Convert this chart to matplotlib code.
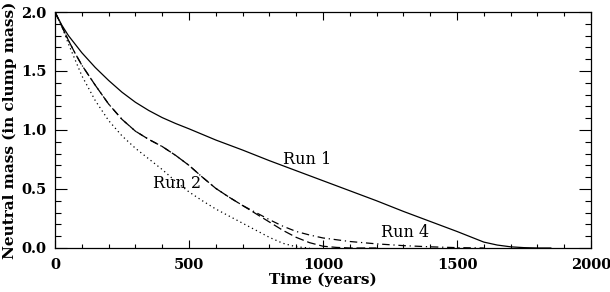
import matplotlib
matplotlib.use("Agg")
import matplotlib.pyplot as plt
from matplotlib.ticker import MultipleLocator, FormatStrFormatter

# Run 1 (solid)
t1 = [0, 25, 50, 100, 150, 200, 250, 300, 350, 400, 450, 500, 600, 700, 800, 900,
      1000, 1100, 1200, 1300, 1400, 1500, 1600, 1650, 1700, 1750, 1800, 1850]
m1 = [2.0, 1.89, 1.80, 1.655, 1.53, 1.42, 1.32, 1.235, 1.165, 1.105, 1.055, 1.01,
      0.915, 0.83, 0.74, 0.655, 0.57, 0.485, 0.40, 0.31, 0.225, 0.14, 0.05, 0.025,
      0.01, 0.003, 0.0, 0.0]

# Run 2 (dashed)
t2 = [0, 25, 50, 75, 100, 150, 200, 250, 300, 350, 400, 450, 500, 550, 600, 650,
      700, 750, 800, 850, 900, 950, 1000, 1050, 1100, 1200]
m2 = [2.0, 1.88, 1.76, 1.65, 1.55, 1.38, 1.22, 1.09, 0.99, 0.92, 0.86, 0.785, 0.70,
      0.60, 0.505, 0.43, 0.36, 0.29, 0.22, 0.15, 0.09, 0.045, 0.015, 0.005, 0.0, 0.0]

# dotted run
t3 = [0, 25, 50, 100, 150, 200, 250, 300, 350, 400, 450, 500, 550, 600, 650,
      700, 750, 800, 850, 900, 950]
m3 = [2.0, 1.88, 1.73, 1.46, 1.25, 1.08, 0.95, 0.845, 0.755, 0.665, 0.565, 0.475,
      0.40, 0.33, 0.27, 0.21, 0.15, 0.09, 0.04, 0.01, 0.0]

# Run 4 (dash-dot)
t4 = [0, 25, 50, 75, 100, 150, 200, 250, 300, 350, 400, 450, 500, 550, 600, 650,
      700, 750, 800, 850, 900, 950, 1000, 1100, 1200, 1300, 1400, 1500, 1600]
m4 = [2.0, 1.88, 1.76, 1.65, 1.55, 1.38, 1.22, 1.09, 0.99, 0.92, 0.86, 0.785, 0.70,
      0.60, 0.505, 0.43, 0.36, 0.30, 0.24, 0.185, 0.14, 0.11, 0.085, 0.055, 0.035,
      0.02, 0.01, 0.003, 0.0]

labels = ["Run 1", "Run 2", "Run 4"]
label_x = [940, 455, 1306]
label_y = [0.75, 0.55, 0.135]

plt.rcParams["font.family"] = "DejaVu Serif"

fig = plt.figure(figsize=(6.1, 2.92), dpi=100)
ax = fig.add_axes([0.0902, 0.1507, 0.8787, 0.8082])

lw = 0.9
ax.plot(t1, m1, color="black", lw=lw, linestyle="-")
ax.plot(t2, m2, color="black", lw=lw, linestyle=(0, (7, 3)))
ax.plot(t3, m3, color="black", lw=lw, linestyle=(0, (1, 2.5)))
ax.plot(t4, m4, color="black", lw=lw, linestyle=(0, (6, 3, 1, 3)))

for s, x, y in zip(labels, label_x, label_y):
    ax.text(x, y, s, fontsize=11.5, ha="center", va="center")

ax.set_xlim(0, 2000)
ax.set_ylim(0, 2.0)
ax.xaxis.set_major_locator(MultipleLocator(500))
ax.xaxis.set_minor_locator(MultipleLocator(100))
ax.yaxis.set_major_locator(MultipleLocator(0.5))
ax.yaxis.set_minor_locator(MultipleLocator(0.1))
ax.yaxis.set_major_formatter(FormatStrFormatter("%.1f"))

ax.tick_params(which="both", direction="in", top=True, right=True, width=0.8,
               labelsize=10.5)
ax.tick_params(axis="x", which="major", length=5.5, pad=7)
ax.tick_params(axis="x", which="minor", length=3)
ax.tick_params(axis="y", which="major", length=8.5, pad=6)
ax.tick_params(axis="y", which="minor", length=4.3)
for lab in ax.get_xticklabels() + ax.get_yticklabels():
    lab.set_fontweight("bold")
for sp in ax.spines.values():
    sp.set_linewidth(0.9)

ax.set_xlabel("Time (years)", fontsize=11, fontweight="bold", labelpad=1)
ax.set_ylabel("Neutral mass (in clump mass)", fontsize=11, fontweight="bold", labelpad=3)

fig.savefig("out.png", dpi=100)
